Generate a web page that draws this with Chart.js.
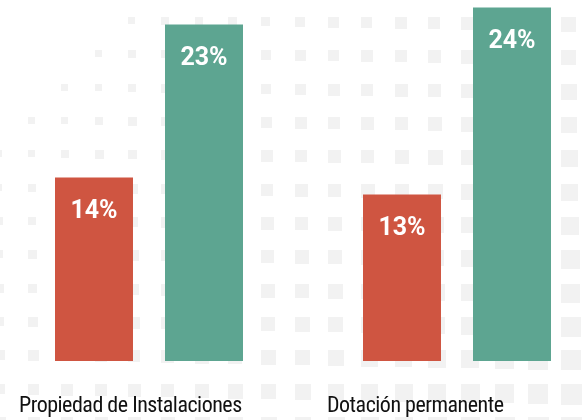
<!DOCTYPE html>
<html><head><meta charset="utf-8">
<script src="https://cdn.jsdelivr.net/npm/chart.js@4.4.1/dist/chart.umd.min.js"></script>
<style>html,body{margin:0;padding:0;background:#fff}#wrap{width:583px;height:420px}</style>
</head><body><div id="wrap"><canvas id="c" width="583" height="420"></canvas></div>
<script>
const categories = ["Propiedad de Instalaciones", "Dotación permanente"];
const seriesRed = [14, 13];
const seriesGreen = [23, 24];
const valueSuffix = "%";
const axisMin = 3.2;
const axisMax = 24.44;

const RED = "#cf5541";
const GREEN = "#5da591";

// decorative halftone square pattern behind the chart
const dotPattern = {
  id: "dotPattern",
  beforeDraw(chart) {
    const ctx = chart.ctx;
    ctx.save();
    ctx.fillStyle = "#fff";
    ctx.fillRect(0, 0, chart.width, chart.height);
    ctx.fillStyle = "#f2f2f2";
    const step = 33.33;
    for (let i = -1; i <= 17; i++) {
      for (let j = 0; j <= 12; j++) {
        if (i + j < 3) continue;
        const x = 28 + step * i, y = 17 + step * j;
        const s = 4.4 + 0.018 * x + 0.016 * y;
        ctx.fillRect(Math.round(x), Math.round(y), Math.round(s), Math.round(s));
      }
    }
    ctx.restore();
    ctx.letterSpacing = "-0.5px";
  }
};

const valueLabels = {
  id: "valueLabels",
  afterDatasetsDraw(chart) {
    const ctx = chart.ctx;
    ctx.save();
    ctx.letterSpacing = "0px";
    ctx.font = "bold 25px Roboto, sans-serif";
    ctx.fillStyle = "#ffffff";
    ctx.textAlign = "center";
    ctx.textBaseline = "middle";
    chart.data.datasets.forEach((ds, di) => {
      chart.getDatasetMeta(di).data.forEach((bar, k) => {
        ctx.fillText(ds.data[k] + valueSuffix, bar.x, bar.y + 34);
      });
    });
    ctx.restore();
  }
};

new Chart(document.getElementById("c"), {
  type: "bar",
  data: {
    labels: categories,
    datasets: [
      { data: seriesRed, backgroundColor: RED, clip: false, base: axisMin },
      { data: seriesGreen, backgroundColor: GREEN, clip: false, base: axisMin }
    ]
  },
  options: {
    responsive: false,
    animation: false,
    devicePixelRatio: 1,
    categoryPercentage: 0.7143,
    barPercentage: 0.709,
    layout: { padding: { left: 149, right: 126, top: 0, bottom: 0 } },
    plugins: { legend: { display: false }, tooltip: { enabled: false } },
    scales: {
      x: {
        offset: false,
        grid: { display: false, drawTicks: false },
        border: { display: false },
        ticks: {
          color: "#111111",
          font: { family: "'Roboto Condensed', Roboto, sans-serif", size: 22, weight: 400, lineHeight: 1.2 },
          padding: 32,
          align: "start",
          labelOffset: -130,
          maxRotation: 0,
          autoSkip: false
        },
        afterFit(scale) { scale.height = 59; scale.paddingLeft = 0; scale.paddingRight = 0; }
      },
      y: {
        display: false,
        min: axisMin,
        max: axisMax
      }
    }
  },
  plugins: [dotPattern, valueLabels]
});
</script>
</body></html>
